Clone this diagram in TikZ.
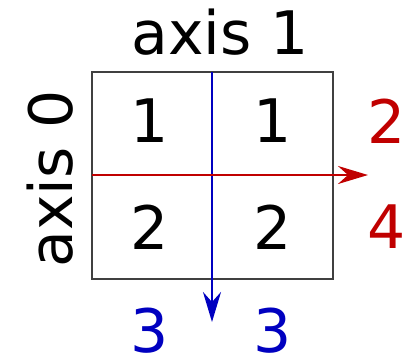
\documentclass[tikz,border=0pt]{standalone}
\usepackage{fontspec}
\setmainfont{DejaVu Sans}
\usetikzlibrary{arrows.meta}
\definecolor{axred}{RGB}{192,0,0}
\definecolor{axblue}{RGB}{0,0,192}
\tikzset{
  big/.style={font=\fontsize{60}{64}\selectfont, inner sep=0pt, anchor=center},
  axarrow/.style={line width=2.8pt, -{Stealth[length=30pt,width=18pt,inset=10pt]}},
}
\begin{document}
\begin{tikzpicture}[x=1pt,y=-1pt]
\useasboundingbox (0,0) rectangle (412,357);
\draw[line width=2pt, black!75] (92,72) rectangle (333,279);
\node[big] (a1) at (220,32) {axis 1};
\node[big, rotate=90] (a0) at (50,179) {axis 0};
\node[big] (c11) at (150,121) {1};
\node[big] (c12) at (273,121) {1};
\node[big] (c21) at (150,227) {2};
\node[big] (c22) at (273,227) {2};
\node[big, text=axred] (r2) at (387,121) {2};
\node[big, text=axred] (r4) at (387,227) {4};
\node[big, text=axblue] (b1) at (150,331) {3};
\node[big, text=axblue] (b2) at (273,331) {3};
\coordinate (rs) at (92,175);
\coordinate (re) at (368,175);
\coordinate (bs) at (212,72);
\coordinate (be) at (212,322);
\draw[axarrow, axblue] (bs) -- (be);
\draw[axarrow, axred] (rs) -- (re);
\end{tikzpicture}
\end{document}
